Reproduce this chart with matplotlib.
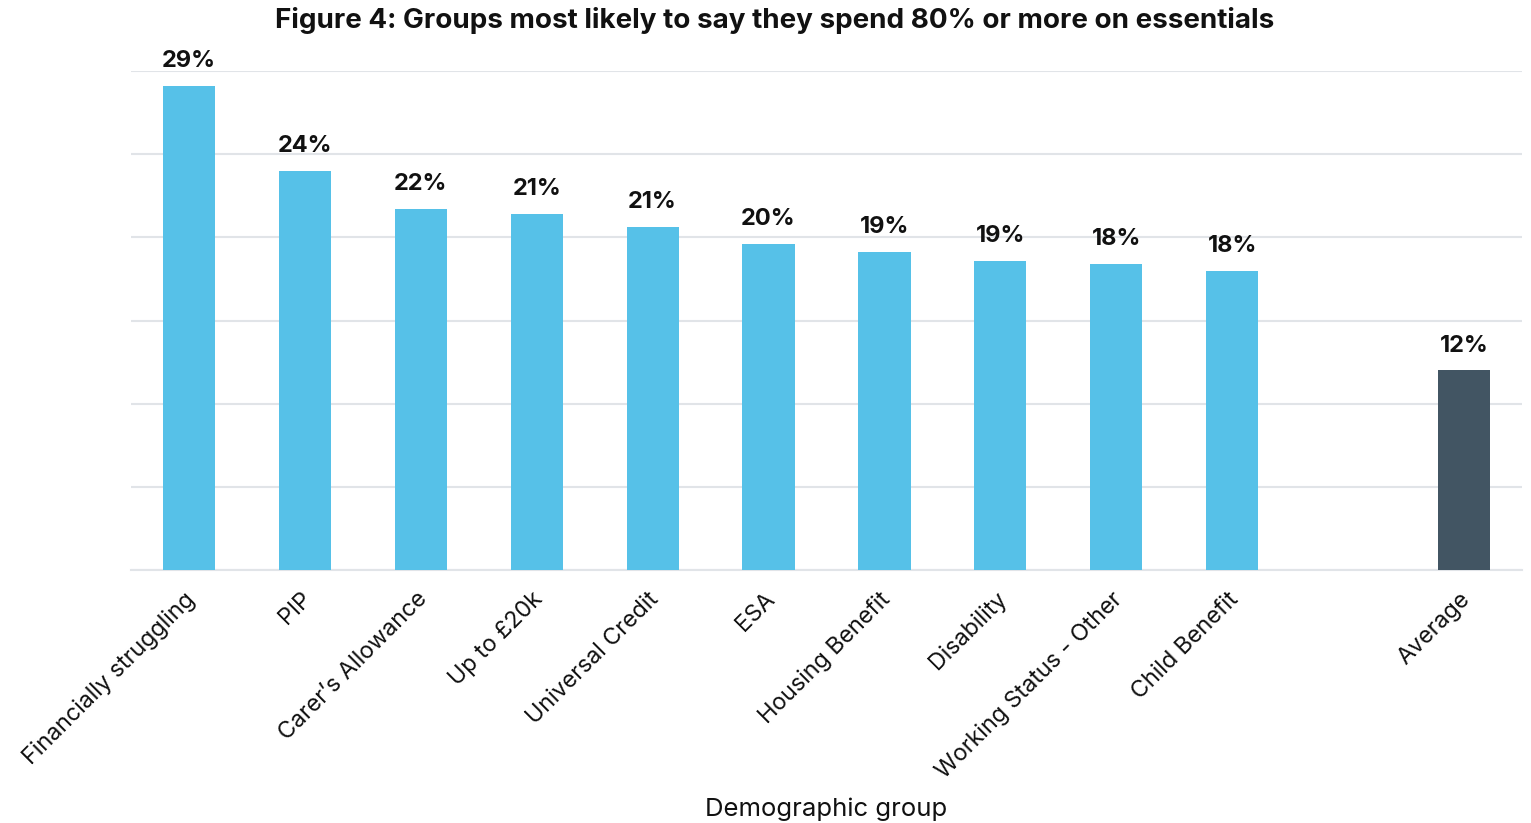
import numpy as np
import matplotlib
matplotlib.use("Agg")
import matplotlib.pyplot as plt
import matplotlib.transforms as mtransforms

plt.rcParams['font.family'] = ['Inter', 'DejaVu Sans']

groups = ["Financially struggling", "PIP", "Carer\u2019s Allowance", "Up to \u00a320k",
          "Universal Credit", "ESA", "Housing Benefit", "Disability",
          "Working Status - Other", "Child Benefit", "", "Average"]
values = [29.1, 24.0, 21.7, 21.4, 20.6, 19.6, 19.1, 18.6, 18.4, 18.0, None, 12.0]

LIGHT = "#56C1E8"
DARK = "#425563"
GRID = "#E1E4E8"

fig = plt.figure(figsize=(15.31, 8.23), dpi=100, facecolor='white')
ax = fig.add_axes([131 / 1531, 1 - 570 / 823, (1522 - 131) / 1531, (570 - 71) / 823])

x = np.arange(len(groups))
for i, v in enumerate(values):
    if v is None:
        continue
    col = DARK if groups[i] == "Average" else LIGHT
    ax.bar(x[i], v, width=0.45, color=col, zorder=3)
    ax.annotate(f"{v:.0f}%", (x[i], v), xytext=(0, 10), textcoords='offset points',
                ha='center', va='bottom', fontsize=17, fontweight='bold', color='#111111')

ax.set_xlim(-0.5, len(groups) - 0.5)
ax.set_ylim(0, 30)
ax.set_yticks(np.arange(0, 31, 5))
ax.set_yticklabels([])
ax.tick_params(axis='y', length=0)
ax.grid(axis='y', color=GRID, linewidth=1.5, zorder=0)
for s in ['top', 'right', 'left']:
    ax.spines[s].set_visible(False)
ax.spines['bottom'].set_color(GRID)
ax.spines['bottom'].set_linewidth(1.5)

ticks = [i for i in x if groups[i]]
ax.set_xticks(ticks)
ax.set_xticklabels([groups[i] for i in ticks], rotation=45, ha='right',
                   rotation_mode='anchor', fontsize=16.8, color='#111111')
ax.tick_params(axis='x', length=0, pad=13)
shift = mtransforms.ScaledTranslation(-5 / 100, 0, fig.dpi_scale_trans)
for lab in ax.get_xticklabels():
    lab.set_transform(lab.get_transform() + shift)

ax.set_xlabel("Demographic group", fontsize=18.5, color='#111111', va='center')
ax.xaxis.set_label_coords(0.5, -(809 - 570) / 499)
fig.text(775 / 1531, 1 - 20 / 823, "Figure 4: Groups most likely to say they spend 80% or more on essentials",
         ha='center', va='center', fontsize=20, fontweight='bold', color='#111111')

fig.savefig("out.png", dpi=100, facecolor='white')
